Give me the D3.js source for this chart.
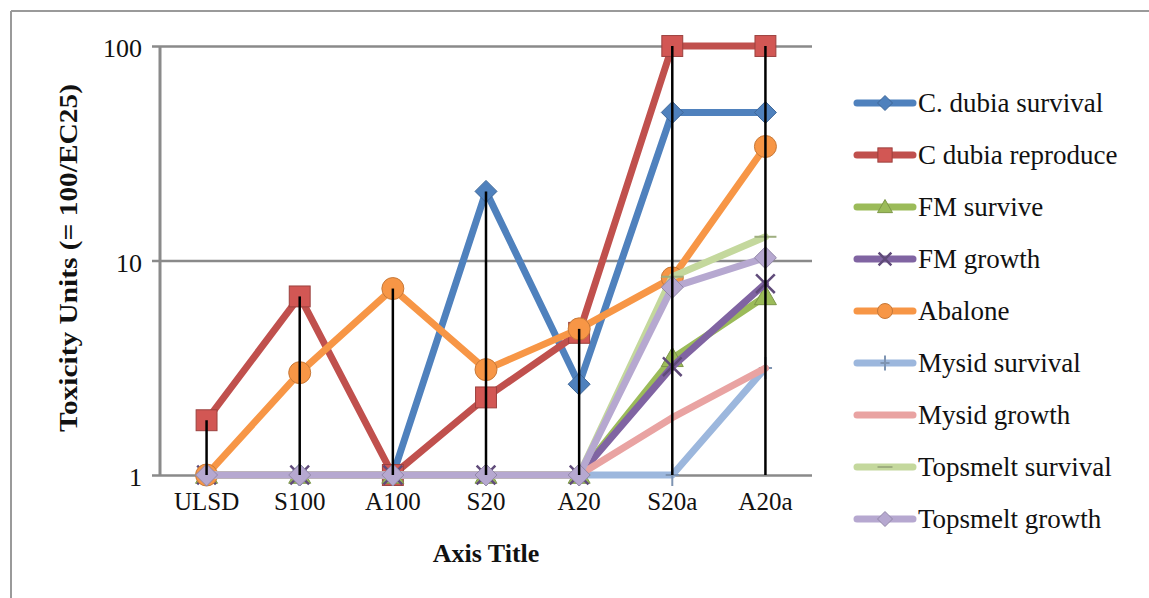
<!DOCTYPE html>
<html>
<head>
<meta charset="utf-8">
<script src="https://cdn.jsdelivr.net/npm/d3@7"></script>
<style>
  html, body { margin: 0; padding: 0; background: #ffffff; }
  svg { display: block; }
  text { font-family: "Liberation Serif", "Times New Roman", serif; fill: #111; }
</style>
</head>
<body>
<svg id="chart" width="1149" height="598"></svg>
<script>
// ---- data ----
const categories = ["ULSD", "S100", "A100", "S20", "A20", "S20a", "A20a"];
const seriesNames = ["C. dubia survival", "C dubia reproduce", "FM survive", "FM growth", "Abalone",
                     "Mysid survival", "Mysid growth", "Topsmelt survival", "Topsmelt growth"];
const cDubiaSurvival   = [1, 1, 1, 21, 2.65, 49, 49];
const cDubiaReproduce  = [1.8, 6.8, 1, 2.3, 4.6, 100, 100];
const fmSurvive        = [1, 1, 1, 1, 1, 3.5, 6.8];
const fmGrowth         = [1, 1, 1, 1, 1, 3.2, 7.8];
const abalone          = [1, 3.0, 7.4, 3.1, 4.8, 8.3, 34];
const mysidSurvival    = [1, 1, 1, 1, 1, 1, 3.15];
const mysidGrowth      = [1, 1, 1, 1, 1, 1.85, 3.15];
const topsmeltSurvival = [1, 1, 1, 1, 1, 8.4, 12.9];
const topsmeltGrowth   = [1, 1, 1, 1, 1, 7.5, 10.3];
const yTicks = [1, 10, 100];
const yTickLabels = ["1", "10", "100"];
const yTitle = "Toxicity Units (= 100/EC25)";
const xTitle = "Axis Title";

// ---- styles ----
const seriesValues = [cDubiaSurvival, cDubiaReproduce, fmSurvive, fmGrowth, abalone,
                      mysidSurvival, mysidGrowth, topsmeltSurvival, topsmeltGrowth];
const colors = ["#4F81BD", "#C0504D", "#9BBB59", "#8064A2", "#F79646",
                "#9CB7DD", "#E9A3A2", "#C4D89D", "#B6A8D0"];
const markers = ["diamond", "square", "triangle", "x", "circle", "plus", "none", "dash", "diamond"];

const svg = d3.select("#chart");
const W = 1149, H = 598;
const plot = { left: 160, right: 812, top: 46, bottom: 475 };

// chart frame (only left/top edges visible in the reference)
svg.append("line").attr("x1", 11).attr("x2", W).attr("y1", 11).attr("y2", 11)
  .attr("stroke", "#9a9a9a").attr("stroke-width", 2);
svg.append("line").attr("x1", 11).attr("x2", 11).attr("y1", 11).attr("y2", H)
  .attr("stroke", "#9a9a9a").attr("stroke-width", 2);

const x = d3.scaleBand().domain(categories).range([plot.left, plot.right]);
const xc = c => x(c) + x.bandwidth() / 2;
const y = d3.scaleLog().domain([1, 100]).range([plot.bottom, plot.top]);

// gridlines + y axis
const yAxis = d3.axisLeft(y).tickValues(yTicks)
  .tickFormat((d, i) => yTickLabels[i])
  .tickSize(-(plot.right - plot.left)).tickPadding(18);
const gy = svg.append("g").attr("transform", `translate(${plot.left},0)`).call(yAxis);
gy.select(".domain").remove();
gy.selectAll(".tick line").attr("stroke", "#8a8a8a").attr("stroke-width", 2.5)
  .attr("x1", -8);
gy.selectAll(".tick text").attr("font-size", 26).attr("font-family", "Liberation Serif, serif")
  .attr("fill", "#111").attr("dy", "0.42em");
svg.append("line").attr("x1", plot.left).attr("x2", plot.left)
  .attr("y1", plot.top).attr("y2", plot.bottom)
  .attr("stroke", "#8a8a8a").attr("stroke-width", 3);

// x axis labels
const xAxis = d3.axisBottom(x).tickSize(0).tickPadding(30);
const gx = svg.append("g").attr("transform", `translate(0,${plot.bottom})`).call(xAxis);
gx.select(".domain").remove();
gx.selectAll(".tick text").attr("font-size", 25).attr("font-family", "Liberation Serif, serif")
  .attr("fill", "#111").attr("dy", "0.2em");

// axis titles
svg.append("text").attr("x", 486).attr("y", 562).attr("text-anchor", "middle")
  .attr("font-size", 26).attr("font-weight", "bold").text(xTitle);
svg.append("text").attr("transform", "translate(77,258) rotate(-90)")
  .attr("text-anchor", "middle").attr("font-size", 26).attr("font-weight", "bold")
  .attr("textLength", 348).attr("lengthAdjust", "spacingAndGlyphs").text(yTitle);

// marker drawing
function drawMarker(g, type, cx, cy, color, r) {
  const dark = d3.color(color).darker(0.6).formatHex();
  if (type === "diamond") {
    g.append("path").attr("d", `M${cx},${cy - r}L${cx + r},${cy}L${cx},${cy + r}L${cx - r},${cy}Z`)
      .attr("fill", color).attr("stroke", dark).attr("stroke-width", 1);
  } else if (type === "square") {
    const s = r * 0.95;
    g.append("rect").attr("x", cx - s).attr("y", cy - s).attr("width", 2 * s).attr("height", 2 * s)
      .attr("fill", d3.color(color).brighter(0.25).formatHex()).attr("stroke", dark).attr("stroke-width", 1);
  } else if (type === "triangle") {
    g.append("path").attr("d", `M${cx},${cy - r}L${cx + r},${cy + r * 0.75}L${cx - r},${cy + r * 0.75}Z`)
      .attr("fill", color).attr("stroke", dark).attr("stroke-width", 1);
  } else if (type === "circle") {
    g.append("circle").attr("cx", cx).attr("cy", cy).attr("r", r)
      .attr("fill", color).attr("stroke", dark).attr("stroke-width", 1);
  } else if (type === "x") {
    const s = r * 0.85;
    g.append("path").attr("d", `M${cx - s},${cy - s}L${cx + s},${cy + s}M${cx - s},${cy + s}L${cx + s},${cy - s}`)
      .attr("stroke", d3.color(color).darker(0.8).formatHex()).attr("stroke-width", 2.5);
  } else if (type === "plus") {
    g.append("path").attr("d", `M${cx},${cy - r}L${cx},${cy + r}M${cx - r * 0.6},${cy}L${cx + r * 0.6},${cy}`)
      .attr("stroke", dark).attr("stroke-width", 2);
  } else if (type === "dash") {
    g.append("path").attr("d", `M${cx - r},${cy}L${cx + r},${cy}`)
      .attr("stroke", dark).attr("stroke-width", 2);
  }
}

// series lines + markers
const line = d3.line().x((d, i) => xc(categories[i])).y(d => y(d));
seriesValues.forEach((vals, si) => {
  const g = svg.append("g");
  g.append("path").datum(vals).attr("d", line).attr("fill", "none")
    .attr("stroke", colors[si]).attr("stroke-width", 7)
    .attr("stroke-linejoin", "round").attr("stroke-linecap", "round");
  vals.forEach((v, i) => drawMarker(g, markers[si], xc(categories[i]), y(v), colors[si], 11));
});

// drop lines (max of all series down to the axis)
categories.forEach((c, i) => {
  const maxV = d3.max(seriesValues, s => s[i]);
  svg.append("line").attr("x1", xc(c)).attr("x2", xc(c))
    .attr("y1", y(maxV)).attr("y2", y(1))
    .attr("stroke", "#000").attr("stroke-width", 2.5);
});

// legend
const legend = svg.append("g");
seriesNames.forEach((name, i) => {
  const cy = 103 + i * 52;
  const g = legend.append("g");
  g.append("line").attr("x1", 857).attr("x2", 913).attr("y1", cy).attr("y2", cy)
    .attr("stroke", colors[i]).attr("stroke-width", 7).attr("stroke-linecap", "round");
  drawMarker(g, markers[i], 885, cy, colors[i], 7.5);
  g.append("text").attr("x", 918).attr("y", cy + 9).attr("font-size", 27).text(name);
});
</script>
</body>
</html>
